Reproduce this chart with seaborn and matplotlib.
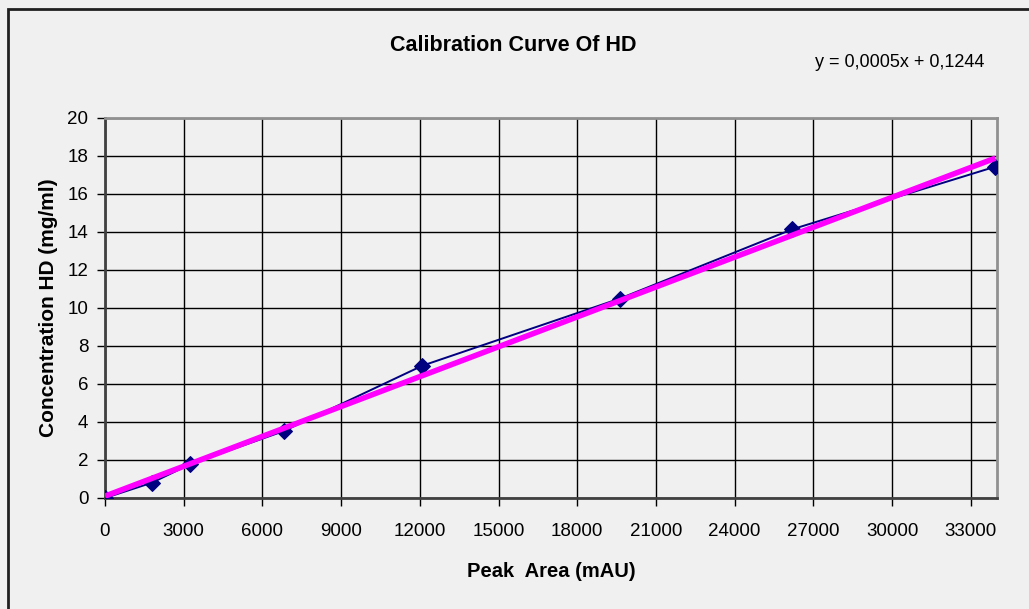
"""
    Calibration curve of HD: peak area vs concentration with a linear
    trendline, drawn in the old Excel chart look.
"""
import matplotlib
matplotlib.use('Agg')
import matplotlib.pyplot as plt
import matplotlib.patches as mpatches
import seaborn as sns
import numpy as np
import pandas as pd

peak_area = [0, 1780, 3240, 6830, 12090, 19630, 26190, 33940]
concentration = [0, 0.80, 1.77, 3.53, 6.96, 10.50, 14.14, 17.44]

x_ticks = list(range(0, 34000, 3000))
y_ticks = list(range(0, 21, 2))

title = 'Calibration Curve Of HD'
equation = 'y = 0,0005x + 0,1244'
xlabel = 'Peak  Area (mAU)'
ylabel = 'Concentration HD (mg/ml)'

bg = '#F0F0F0'

sns.set_style("white", {'axes.facecolor': bg, 'figure.facecolor': bg})
plt.rcParams['font.family'] = ['Liberation Sans Narrow', 'Liberation Sans',
                               'DejaVu Sans']
plt.rcParams['text.color'] = 'black'
plt.rcParams['axes.labelcolor'] = 'black'
plt.rcParams['xtick.color'] = 'black'
plt.rcParams['ytick.color'] = 'black'

data = pd.DataFrame({'area': peak_area, 'conc': concentration})

fig = plt.figure(figsize=(10.29, 6.09), dpi=100)
ax = fig.add_axes([105 / 1029, 111 / 609, 892 / 1029, 380 / 609])

# measured series
sns.lineplot(data=data, x='area', y='conc', ax=ax, color='#000080',
             linewidth=1.4, marker='D', markersize=8,
             markeredgecolor='#000080', zorder=3)
# linear trendline
sns.regplot(data=data, x='area', y='conc', ax=ax, ci=None, scatter=False,
            line_kws={'color': '#FF00FF', 'linewidth': 4, 'zorder': 4,
                      'solid_capstyle': 'butt'})

ax.set_xlim(0, 34000)
ax.set_ylim(0, 20)
ax.set_xticks(x_ticks)
ax.set_yticks(y_ticks)
ax.grid(True, color='black', linewidth=1)
ax.set_axisbelow(True)
ax.tick_params(axis='both', direction='out', length=6, width=1,
               color='black', labelsize=13.5, pad=6, bottom=True, left=True)
ax.tick_params(axis='x', pad=12)

for side in ['left', 'bottom']:
    ax.spines[side].set_color('#404040')
    ax.spines[side].set_linewidth(2)
for side in ['top', 'right']:
    ax.spines[side].set_color('#909090')
    ax.spines[side].set_linewidth(2)

ax.set_xlabel(xlabel, fontsize=14.5, fontweight='bold', labelpad=16)
ax.set_ylabel(ylabel, fontsize=15, fontweight='bold', labelpad=7)

fig.text(0.4985, 0.926, title, fontsize=15.5, fontweight='bold',
         ha='center', va='center')
fig.text(0.792, 0.898, equation, fontsize=13, ha='left', va='center')

# chart area border
fig.add_artist(mpatches.Rectangle((8 / 1029, -0.1), 1.2, 1.1 - 9 / 609,
                                  transform=fig.transFigure, fill=False,
                                  edgecolor='#202020', linewidth=2))

fig.savefig('out.png', dpi=100, facecolor=bg)
